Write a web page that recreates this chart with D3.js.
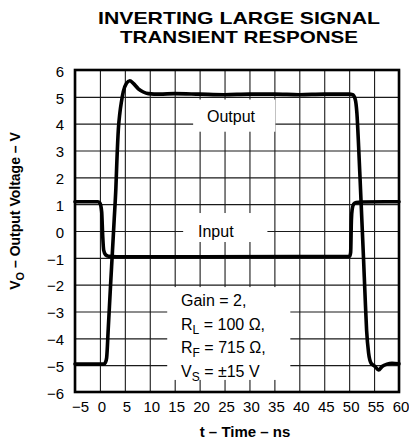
<!DOCTYPE html>
<html><head><meta charset="utf-8">
<script src="https://cdn.jsdelivr.net/npm/d3@7"></script>
<style>
body{margin:0;background:#fff}
svg{display:block}
text{font-family:"Liberation Sans",Arial,Helvetica,sans-serif;fill:#000}
</style>
</head><body><svg id="c" width="409" height="445"></svg>
<script>
// ---- data ----
const titleLines = ["INVERTING LARGE SIGNAL", "TRANSIENT RESPONSE"];
const xTicks = [-5, 0, 5, 10, 15, 20, 25, 30, 35, 40, 45, 50, 55, 60];
const yTicks = [-6, -5, -4, -3, -2, -1, 0, 1, 2, 3, 4, 5, 6];
const xLabel = "t \u2013 Time \u2013 ns";
const yLabelParts = ["V", "O", " \u2013 Output Voltage \u2013 V"];

const inputT = [-5, -0.4, 0.0, 0.35, 0.55, 0.75, 1.15, 1.7, 5, 20, 40, 50.1, 50.3, 50.45, 50.6, 50.9, 51.4, 52.5, 60];
const inputV = [1.09, 1.09, 1.04, 0.72, -0.15, -0.71, -0.89, -0.94, -0.96, -0.96, -0.95, -0.94, -0.8, 0.4, 0.8, 1.0, 1.06, 1.08, 1.09];

const outputT = [-5, 0.8, 1.1, 1.35, 1.67, 2.14, 2.47, 2.87, 3.2, 3.4, 3.7, 4.0, 4.3, 4.7, 5.3, 6.0, 6.7, 7.7, 8.7, 9.7, 12, 15, 20, 25, 30, 35, 40, 45, 50, 50.7, 51.2, 51.55, 51.9, 52.2, 52.55, 52.9, 53.2, 53.5, 53.9, 54.4, 55.2, 55.9, 56.6, 57.6, 58.6, 60];
const outputV = [-4.96, -4.96, -4.9, -4.72, -3.65, -2.0, -0.9, 0.45, 1.6, 2.6, 3.8, 4.4, 4.8, 5.2, 5.5, 5.6, 5.5, 5.3, 5.18, 5.12, 5.1, 5.12, 5.1, 5.08, 5.1, 5.1, 5.08, 5.1, 5.1, 5.08, 4.92, 4.4, 3.15, 1.9, 0.4, -1.1, -2.45, -3.7, -4.55, -4.93, -5.05, -5.18, -5.05, -4.96, -4.93, -4.95];

const seriesNames = ["Output", "Input"];
// each line: [main, subscript, rest]
const conditions = [
  ["Gain = 2,", "", ""],
  ["R", "L", " = 100 \u03A9,"],
  ["R", "F", " = 715 \u03A9,"],
  ["V", "S", " = \u00B115 V"]
];

// ---- layout ----
const m = {l: 75, r: 399, t: 70, b: 392};
const svg = d3.select("#c");

const x = d3.scaleLinear().domain([-5, 60]).range([m.l, m.r]);
const y = d3.scaleLinear().domain([-6, 6]).range([m.b, m.t]);

// title
const titleWidths = [282, 238];
svg.append("g").selectAll("text").data(titleLines).join("text")
  .attr("x", 239).attr("y", (d, i) => 24 + i * 19)
  .attr("text-anchor", "middle").attr("font-weight", "bold").attr("font-size", 17)
  .attr("textLength", (d, i) => titleWidths[i]).attr("lengthAdjust", "spacingAndGlyphs")
  .text(d => d);

// grid
const grid = svg.append("g");
grid.append("g").attr("transform", `translate(0,${m.b})`)
  .call(d3.axisBottom(x).tickValues(xTicks).tickSize(-(m.b - m.t)).tickFormat(""))
  .call(g => g.select(".domain").remove())
  .call(g => g.selectAll("line").attr("stroke", "#1a1a1a").attr("stroke-width", 1.1));
grid.append("g").attr("transform", `translate(${m.l},0)`)
  .call(d3.axisLeft(y).tickValues(yTicks).tickSize(-(m.r - m.l)).tickFormat(""))
  .call(g => g.select(".domain").remove())
  .call(g => g.selectAll("line").attr("stroke", "#1a1a1a").attr("stroke-width", 1.1));

// label boxes (white backgrounds breaking the grid)
const boxes = [
  {t0: 18.7, t1: 35.2, v0: 4.9, v1: 3.7},
  {t0: 16.7, t1: 33.6, v0: 0.67, v1: -0.41},
  {t0: 13.5, t1: 38.2, v0: -2.09, v1: -5.55}
];
svg.append("g").selectAll("rect").data(boxes).join("rect")
  .attr("x", d => x(d.t0)).attr("y", d => y(d.v0))
  .attr("width", d => x(d.t1) - x(d.t0)).attr("height", d => y(d.v1) - y(d.v0))
  .attr("fill", "#fff");

// border
svg.append("rect").attr("x", m.l).attr("y", m.t)
  .attr("width", m.r - m.l).attr("height", m.b - m.t)
  .attr("fill", "none").attr("stroke", "#000").attr("stroke-width", 2.6);

// axes labels
const fmt = d => d < 0 ? "\u2212" + Math.abs(d) : String(d);
const xa = svg.append("g").attr("transform", `translate(0,${m.b})`)
  .call(d3.axisBottom(x).tickValues(xTicks).tickSize(0).tickPadding(0).tickFormat(fmt));
xa.select(".domain").remove();
xa.selectAll("text").attr("font-size", 15).attr("font-family", null)
  .attr("y", 20).attr("dy", 0)
  .attr("dx", d => d < 0 ? 5 : 1.5);

const ya = svg.append("g").attr("transform", `translate(${m.l},0)`)
  .call(d3.axisLeft(y).tickValues(yTicks).tickSize(0).tickPadding(11).tickFormat(fmt));
ya.select(".domain").remove();
ya.selectAll("text").attr("font-size", 15).attr("font-family", null).attr("dy", "0.42em");

// axis titles
svg.append("text").attr("x", 245).attr("y", 437).attr("text-anchor", "middle")
  .attr("font-weight", "bold").attr("font-size", 15).text(xLabel);

const yt = svg.append("text").attr("transform", "translate(20,211) rotate(-90)")
  .attr("text-anchor", "middle").attr("font-weight", "bold").attr("font-size", 14);
yt.append("tspan").text(yLabelParts[0]);
yt.append("tspan").attr("font-size", 11).attr("dy", 4).text(yLabelParts[1]);
yt.append("tspan").attr("dy", -4).text(yLabelParts[2]);

// traces
const line = d3.line().x(d => x(d[0])).y(d => y(d[1])).curve(d3.curveMonotoneX);
const inputData = inputT.map((t, i) => [t, inputV[i]]);
const outputData = outputT.map((t, i) => [t, outputV[i]]);
svg.append("g").selectAll("path").data([inputData, outputData]).join("path")
  .attr("d", line).attr("fill", "none").attr("stroke", "#000")
  .attr("stroke-width", 3.6).attr("stroke-linejoin", "round").attr("stroke-linecap", "round");

// series labels
svg.append("text").attr("x", 207).attr("y", 122).attr("font-size", 16).text(seriesNames[0]);
svg.append("text").attr("x", 198).attr("y", 237).attr("font-size", 16).text(seriesNames[1]);

// conditions
const cg = svg.append("g");
conditions.forEach(([a, sub, rest], i) => {
  const t = cg.append("text").attr("x", 181).attr("y", 306 + i * 23.5).attr("font-size", 16);
  t.append("tspan").text(a);
  if (sub) {
    t.append("tspan").attr("font-size", 12).attr("dy", 4).text(sub);
    t.append("tspan").attr("dy", -4).text(rest);
  }
});
</script>
</body></html>
